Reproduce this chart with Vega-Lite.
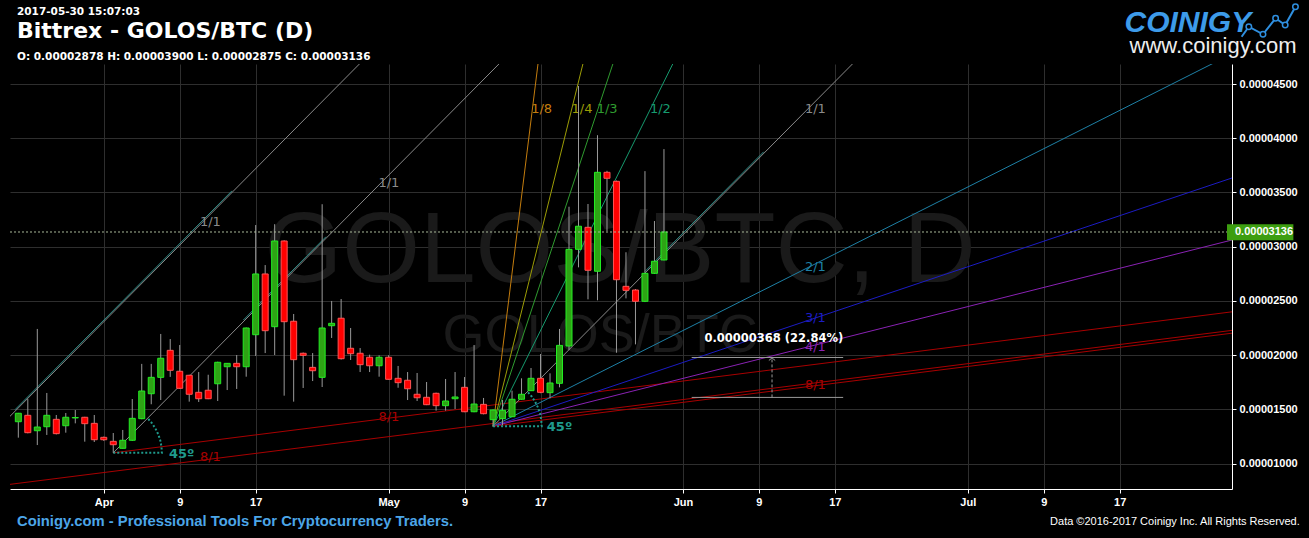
{
  "$schema": "https://vega.github.io/schema/vega-lite/v6.json",
  "width": 1222,
  "height": 425,
  "autosize": {"type": "none"},
  "padding": {"left": 10, "top": 64, "right": 77, "bottom": 49},
  "background": "#000000",
  "config": {"view": {"stroke": null}, "font": "Liberation Sans"},
  "datasets": {
    "candles": [
      {"d": "2017-03-23", "o": 0.00001387, "h": 0.00001468, "l": 0.00001240, "c": 0.00001465},
      {"d": "2017-03-24", "o": 0.00001446, "h": 0.00001596, "l": 0.00001280, "c": 0.00001286},
      {"d": "2017-03-25", "o": 0.00001304, "h": 0.00002242, "l": 0.00001172, "c": 0.00001338},
      {"d": "2017-03-26", "o": 0.00001341, "h": 0.00001652, "l": 0.00001265, "c": 0.00001446},
      {"d": "2017-03-27", "o": 0.00001409, "h": 0.00001449, "l": 0.00001270, "c": 0.00001277},
      {"d": "2017-03-28", "o": 0.00001350, "h": 0.00001467, "l": 0.00001286, "c": 0.00001428},
      {"d": "2017-03-29", "o": 0.00001422, "h": 0.00001495, "l": 0.00001372, "c": 0.00001426},
      {"d": "2017-03-30", "o": 0.00001428, "h": 0.00001432, "l": 0.00001203, "c": 0.00001369},
      {"d": "2017-03-31", "o": 0.00001372, "h": 0.00001449, "l": 0.00001200, "c": 0.00001221},
      {"d": "2017-04-01", "o": 0.00001243, "h": 0.00001250, "l": 0.00001210, "c": 0.00001221},
      {"d": "2017-04-02", "o": 0.00001206, "h": 0.00001283, "l": 0.00001100, "c": 0.00001175},
      {"d": "2017-04-03", "o": 0.00001142, "h": 0.00001311, "l": 0.00001140, "c": 0.00001216},
      {"d": "2017-04-04", "o": 0.00001216, "h": 0.00001596, "l": 0.00001210, "c": 0.00001418},
      {"d": "2017-04-05", "o": 0.00001415, "h": 0.00001920, "l": 0.00001410, "c": 0.00001670},
      {"d": "2017-04-06", "o": 0.00001645, "h": 0.00001920, "l": 0.00001548, "c": 0.00001796},
      {"d": "2017-04-07", "o": 0.00001796, "h": 0.00002196, "l": 0.00001587, "c": 0.00001972},
      {"d": "2017-04-08", "o": 0.00002045, "h": 0.00002149, "l": 0.00001800, "c": 0.00001861},
      {"d": "2017-04-09", "o": 0.00001852, "h": 0.00002094, "l": 0.00001690, "c": 0.00001695},
      {"d": "2017-04-10", "o": 0.00001815, "h": 0.00001820, "l": 0.00001572, "c": 0.00001640},
      {"d": "2017-04-11", "o": 0.00001658, "h": 0.00001845, "l": 0.00001569, "c": 0.00001599},
      {"d": "2017-04-12", "o": 0.00001677, "h": 0.00001820, "l": 0.00001595, "c": 0.00001599},
      {"d": "2017-04-13", "o": 0.00001737, "h": 0.00001940, "l": 0.00001578, "c": 0.00001935},
      {"d": "2017-04-14", "o": 0.00001894, "h": 0.00001928, "l": 0.00001679, "c": 0.00001925},
      {"d": "2017-04-15", "o": 0.00001925, "h": 0.00002002, "l": 0.00001689, "c": 0.00001894},
      {"d": "2017-04-16", "o": 0.00001894, "h": 0.00002255, "l": 0.00001802, "c": 0.00002251},
      {"d": "2017-04-17", "o": 0.00002189, "h": 0.00003200, "l": 0.00001993, "c": 0.00002749},
      {"d": "2017-04-18", "o": 0.00002749, "h": 0.00002831, "l": 0.00002020, "c": 0.00002226},
      {"d": "2017-04-19", "o": 0.00002263, "h": 0.00003208, "l": 0.00002002, "c": 0.00003053},
      {"d": "2017-04-20", "o": 0.00003053, "h": 0.00003060, "l": 0.00001627, "c": 0.00002309},
      {"d": "2017-04-21", "o": 0.00002313, "h": 0.00002380, "l": 0.00001572, "c": 0.00001959},
      {"d": "2017-04-22", "o": 0.00002018, "h": 0.00002025, "l": 0.00001698, "c": 0.00001999},
      {"d": "2017-04-23", "o": 0.00001888, "h": 0.00002020, "l": 0.00001762, "c": 0.00001857},
      {"d": "2017-04-24", "o": 0.00001796, "h": 0.00003392, "l": 0.00001707, "c": 0.00002251},
      {"d": "2017-04-25", "o": 0.00002272, "h": 0.00002500, "l": 0.00002159, "c": 0.00002294},
      {"d": "2017-04-26", "o": 0.00002341, "h": 0.00002518, "l": 0.00001960, "c": 0.00001968},
      {"d": "2017-04-27", "o": 0.00002064, "h": 0.00002251, "l": 0.00001956, "c": 0.00002014},
      {"d": "2017-04-28", "o": 0.00002018, "h": 0.00002066, "l": 0.00001845, "c": 0.00001913},
      {"d": "2017-04-29", "o": 0.00001981, "h": 0.00002005, "l": 0.00001845, "c": 0.00001903},
      {"d": "2017-04-30", "o": 0.00001903, "h": 0.00001999, "l": 0.00001802, "c": 0.00001981},
      {"d": "2017-05-01", "o": 0.00001981, "h": 0.00002000, "l": 0.00001775, "c": 0.00001778},
      {"d": "2017-05-02", "o": 0.00001787, "h": 0.00001901, "l": 0.00001700, "c": 0.00001747},
      {"d": "2017-05-03", "o": 0.00001769, "h": 0.00001845, "l": 0.00001587, "c": 0.00001691},
      {"d": "2017-05-04", "o": 0.00001640, "h": 0.00001836, "l": 0.00001578, "c": 0.00001608},
      {"d": "2017-05-05", "o": 0.00001612, "h": 0.00001753, "l": 0.00001540, "c": 0.00001544},
      {"d": "2017-05-06", "o": 0.00001649, "h": 0.00001655, "l": 0.00001489, "c": 0.00001535},
      {"d": "2017-05-07", "o": 0.00001535, "h": 0.00001781, "l": 0.00001489, "c": 0.00001578},
      {"d": "2017-05-08", "o": 0.00001599, "h": 0.00001845, "l": 0.00001504, "c": 0.00001615},
      {"d": "2017-05-09", "o": 0.00001704, "h": 0.00001799, "l": 0.00001475, "c": 0.00001479},
      {"d": "2017-05-10", "o": 0.00001479, "h": 0.00002094, "l": 0.00001475, "c": 0.00001550},
      {"d": "2017-05-11", "o": 0.00001547, "h": 0.00001606, "l": 0.00001455, "c": 0.00001461},
      {"d": "2017-05-12", "o": 0.00001406, "h": 0.00001500, "l": 0.00001345, "c": 0.00001495},
      {"d": "2017-05-13", "o": 0.00001415, "h": 0.00001587, "l": 0.00001357, "c": 0.00001492},
      {"d": "2017-05-14", "o": 0.00001433, "h": 0.00001673, "l": 0.00001430, "c": 0.00001594},
      {"d": "2017-05-15", "o": 0.00001594, "h": 0.00001787, "l": 0.00001590, "c": 0.00001640},
      {"d": "2017-05-16", "o": 0.00001673, "h": 0.00001882, "l": 0.00001670, "c": 0.00001787},
      {"d": "2017-05-17", "o": 0.00001787, "h": 0.00002011, "l": 0.00001650, "c": 0.00001658},
      {"d": "2017-05-18", "o": 0.00001655, "h": 0.00001833, "l": 0.00001603, "c": 0.00001744},
      {"d": "2017-05-19", "o": 0.00001741, "h": 0.00002242, "l": 0.00001704, "c": 0.00002091},
      {"d": "2017-05-20", "o": 0.00002085, "h": 0.00003369, "l": 0.00002050, "c": 0.00002976},
      {"d": "2017-05-21", "o": 0.00002976, "h": 0.00004482, "l": 0.00002810, "c": 0.00003189},
      {"d": "2017-05-22", "o": 0.00003179, "h": 0.00003394, "l": 0.00002515, "c": 0.00002783},
      {"d": "2017-05-23", "o": 0.00002774, "h": 0.00004028, "l": 0.00002506, "c": 0.00003686},
      {"d": "2017-05-24", "o": 0.00003686, "h": 0.00003700, "l": 0.00003145, "c": 0.00003631},
      {"d": "2017-05-25", "o": 0.00003603, "h": 0.00003610, "l": 0.00002023, "c": 0.00002696},
      {"d": "2017-05-26", "o": 0.00002635, "h": 0.00002949, "l": 0.00002524, "c": 0.00002598},
      {"d": "2017-05-27", "o": 0.00002601, "h": 0.00002610, "l": 0.00002100, "c": 0.00002497},
      {"d": "2017-05-28", "o": 0.00002497, "h": 0.00003697, "l": 0.00002490, "c": 0.00002755},
      {"d": "2017-05-29", "o": 0.00002755, "h": 0.00003237, "l": 0.00002750, "c": 0.00002866},
      {"d": "2017-05-30", "o": 0.00002878, "h": 0.00003900, "l": 0.00002875, "c": 0.00003136}
    ],
    "gann": [
      {"fan": 0, "r": "1/1", "d": "2017-03-14", "p": 0.0000072, "d2": "2017-05-01", "p2": 0.00004956},
      {"fan": 0, "r": "8/1", "d": "2017-03-14", "p": 0.0000072, "d2": "2017-07-29", "p2": 0.00002231},
      {"fan": 1, "r": "1/1", "d": "2017-04-02", "p": 0.000011, "d2": "2017-05-20", "p2": 0.00005336},
      {"fan": 1, "r": "8/1", "d": "2017-04-02", "p": 0.000011, "d2": "2017-07-29", "p2": 0.00002402},
      {"fan": 2, "r": "1/8", "d": "2017-05-12", "p": 0.00001345, "d2": "2017-05-18", "p2": 0.0000558},
      {"fan": 2, "r": "1/4", "d": "2017-05-12", "p": 0.00001345, "d2": "2017-05-24", "p2": 0.0000558},
      {"fan": 2, "r": "1/3", "d": "2017-05-12", "p": 0.00001345, "d2": "2017-05-28", "p2": 0.0000558},
      {"fan": 2, "r": "1/2", "d": "2017-05-12", "p": 0.00001345, "d2": "2017-06-05", "p2": 0.0000558},
      {"fan": 2, "r": "1/1", "d": "2017-05-12", "p": 0.00001345, "d2": "2017-06-29", "p2": 0.0000558},
      {"fan": 2, "r": "2/1", "d": "2017-05-12", "p": 0.00001345, "d2": "2017-07-29", "p2": 0.00004786},
      {"fan": 2, "r": "3/1", "d": "2017-05-12", "p": 0.00001345, "d2": "2017-07-29", "p2": 0.00003639},
      {"fan": 2, "r": "4/1", "d": "2017-05-12", "p": 0.00001345, "d2": "2017-07-29", "p2": 0.00003066},
      {"fan": 2, "r": "8/1", "d": "2017-05-12", "p": 0.00001345, "d2": "2017-07-29", "p2": 0.00002205}
    ],
    "trend": [
      {"d": "2017-03-22T15:37:00Z", "p": 0.00001498, "d2": "2017-04-14T12:00:00Z", "p2": 0.00003515},
      {"d": "2017-04-15T16:48:00Z", "p": 0.00002324, "d2": "2017-04-24T09:36:00Z", "p2": 0.00003092},
      {"d": "2017-05-28T00:00:00Z", "p": 0.00002772, "d2": "2017-06-09T12:00:00Z", "p2": 0.00003875}
    ],
    "gannLabels": [
      {"r": "1/1", "d": "2017-04-12T05:31:00Z", "p": 0.00003228},
      {"r": "8/1", "d": "2017-04-12T05:31:00Z", "p": 0.00001062},
      {"r": "1/1", "d": "2017-05-01T00:43:00Z", "p": 0.00003588},
      {"r": "8/1", "d": "2017-05-01T00:43:00Z", "p": 0.0000143},
      {"r": "1/8", "d": "2017-05-17T02:53:00Z", "p": 0.0000427},
      {"r": "1/4", "d": "2017-05-21T08:53:00Z", "p": 0.0000427},
      {"r": "1/3", "d": "2017-05-24T00:14:00Z", "p": 0.0000427},
      {"r": "1/2", "d": "2017-05-29T14:53:00Z", "p": 0.0000427},
      {"r": "1/1", "d": "2017-06-14T22:48:00Z", "p": 0.0000427},
      {"r": "2/1", "d": "2017-06-14T22:48:00Z", "p": 0.00002813},
      {"r": "3/1", "d": "2017-06-14T22:48:00Z", "p": 0.00002343},
      {"r": "4/1", "d": "2017-06-14T22:48:00Z", "p": 0.0000208},
      {"r": "8/1", "d": "2017-06-14T22:48:00Z", "p": 0.00001725}
    ],
    "arcs": [
      {"fan": 1, "i": 0, "d": "2017-04-02T00:00:00Z", "p": 0.000011},
      {"fan": 1, "i": 1, "d": "2017-04-07T02:54:00Z", "p": 0.000011},
      {"fan": 1, "i": 2, "d": "2017-04-07T01:48:00Z", "p": 0.00001159},
      {"fan": 1, "i": 3, "d": "2017-04-06T22:40:00Z", "p": 0.00001217},
      {"fan": 1, "i": 4, "d": "2017-04-06T17:30:00Z", "p": 0.00001273},
      {"fan": 1, "i": 5, "d": "2017-04-06T10:24:00Z", "p": 0.00001326},
      {"fan": 1, "i": 6, "d": "2017-04-06T01:28:00Z", "p": 0.00001375},
      {"fan": 1, "i": 7, "d": "2017-04-05T14:53:00Z", "p": 0.00001419},
      {"fan": 2, "i": 0, "d": "2017-05-12T00:00:00Z", "p": 0.00001345},
      {"fan": 2, "i": 1, "d": "2017-05-17T02:54:00Z", "p": 0.00001345},
      {"fan": 2, "i": 2, "d": "2017-05-17T01:48:00Z", "p": 0.00001404},
      {"fan": 2, "i": 3, "d": "2017-05-16T22:40:00Z", "p": 0.00001462},
      {"fan": 2, "i": 4, "d": "2017-05-16T17:30:00Z", "p": 0.00001518},
      {"fan": 2, "i": 5, "d": "2017-05-16T10:24:00Z", "p": 0.00001571},
      {"fan": 2, "i": 6, "d": "2017-05-16T01:28:00Z", "p": 0.0000162},
      {"fan": 2, "i": 7, "d": "2017-05-15T14:53:00Z", "p": 0.00001664}
    ],
    "deg": [
      {"t": "45º", "d": "2017-04-09T04:48:00Z", "p": 0.00001089},
      {"t": "45º", "d": "2017-05-19T00:00:00Z", "p": 0.00001338}
    ],
    "last": [{"p": 0.00003136}],
    "priceBox": [{"d": "2017-07-28T07:13:00Z", "d2": "2017-08-04T07:00:00Z", "p": 0.0000306, "p2": 0.00003207, "t": "0.00003136", "dt": "2017-07-29T03:22:00Z", "pt": 0.00003136}],
    "measureH": [
      {"d": "2017-06-01T22:05:00Z", "d2": "2017-06-17T21:00:00Z", "p": 0.00001611},
      {"d": "2017-06-01T22:05:00Z", "d2": "2017-06-17T21:00:00Z", "p": 0.00001979}
    ],
    "measureV": [{"d": "2017-06-10T09:10:00Z", "p": 0.00001611, "p2": 0.00001975}],
    "measureTip": [{"d": "2017-06-10T09:10:00Z", "p": 0.00001975}],
    "measureText": [{"t": "0.00000368 (22.84%)", "d": "2017-06-10T13:40:00Z", "p": 0.0000215}],
    "wmBig": [{"t": "GOLOS/BTC, D", "d": "2017-05-25T08:53:00Z", "p": 0.00002675}],
    "wmSmall": [{"t": "GOLOS/BTC", "d": "2017-05-23T06:43:00Z", "p": 0.0000203}],
    "hDate": [{"t": "2017-05-30 15:07:03", "d": "2017-03-22T20:40:00Z", "p": 0.00005168}],
    "hTitle": [{"t": "Bittrex - GOLOS/BTC (D)", "d": "2017-03-22T20:40:00Z", "p": 0.00004989}],
    "hOhlc": [{"t": "O: 0.00002878 H: 0.00003900 L: 0.00002875 C: 0.00003136", "d": "2017-03-22T20:40:00Z", "p": 0.00004749}],
    "footL": [{"t": "Coinigy.com - Professional Tools For Cryptocurrency Traders.", "d": "2017-03-22T20:40:00Z", "p": 0.000004626}],
    "footR": [{"t": "Data ©2016-2017 Coinigy Inc. All Rights Reserved.", "d": "2017-08-04T23:00:00Z", "p": 0.000004626}],
    "logo": [{"t": "COINIGY", "d": "2017-07-24T04:19:00Z", "p": 0.00004982}],
    "logoUrl": [{"t": "www.coinigy.com", "d": "2017-07-26T20:10:00Z", "p": 0.00004786}],
    "logoIcon": [
      {"i": 0, "d": "2017-07-29T20:10:00Z", "p": 0.00004936, "dot": false},
      {"i": 1, "d": "2017-07-30T14:24:00Z", "p": 0.00005028, "dot": true},
      {"i": 2, "d": "2017-08-01T02:10:00Z", "p": 0.00004958, "dot": true},
      {"i": 3, "d": "2017-08-02T10:05:00Z", "p": 0.00005106, "dot": true},
      {"i": 4, "d": "2017-08-03T10:19:00Z", "p": 0.00005044, "dot": true},
      {"i": 5, "d": "2017-08-04T12:14:00Z", "p": 0.00005213, "dot": true}
    ]
  },
  "layer": [
    {
      "data": {"name": "wmBig"},
      "mark": {"type": "text", "align": "center", "baseline": "alphabetic", "fontSize": 100, "font": "Liberation Sans", "color": "#1a1a1a"},
      "encoding": {
        "x": {"field": "d", "type": "temporal", "title": null,
          "scale": {"type": "utc", "nice": false, "domain": [{"year": 2017, "month": 3, "date": 22, "hours": 15, "minutes": 37, "utc": true}, {"year": 2017, "month": 7, "date": 28, "hours": 7, "minutes": 13, "utc": true}]},
          "axis": {
            "values": [
              {"year": 2017, "month": 4, "date": 1, "utc": true}, {"year": 2017, "month": 4, "date": 9, "utc": true}, {"year": 2017, "month": 4, "date": 17, "utc": true},
              {"year": 2017, "month": 5, "date": 1, "utc": true}, {"year": 2017, "month": 5, "date": 9, "utc": true}, {"year": 2017, "month": 5, "date": 17, "utc": true},
              {"year": 2017, "month": 6, "date": 1, "utc": true}, {"year": 2017, "month": 6, "date": 9, "utc": true}, {"year": 2017, "month": 6, "date": 17, "utc": true},
              {"year": 2017, "month": 7, "date": 1, "utc": true}, {"year": 2017, "month": 7, "date": 9, "utc": true}, {"year": 2017, "month": 7, "date": 17, "utc": true}
            ],
            "labelExpr": "utcdate(datum.value) == 1 ? utcFormat(datum.value, '%b') : utcFormat(datum.value, '%-d')",
            "grid": true, "gridColor": "#2e2e2e", "gridWidth": 1,
            "domainColor": "#ffffff", "domainWidth": 1, "tickColor": "#ffffff", "tickSize": 4,
            "labelColor": "#ffffff", "labelFont": "Liberation Sans", "labelFontWeight": "bold", "labelFontSize": 11,
            "labelPadding": 3, "labelOverlap": false, "labelFlush": false
          }
        },
        "y": {"field": "p", "type": "quantitative", "title": null,
          "scale": {"domain": [0.000007668, 0.000046845], "nice": false, "zero": false},
          "axis": {
            "orient": "right",
            "values": [0.00001, 0.000015, 0.00002, 0.000025, 0.00003, 0.000035, 0.00004, 0.000045],
            "format": ".8f",
            "grid": true, "gridColor": "#2e2e2e", "gridWidth": 1,
            "domainColor": "#ffffff", "domainWidth": 1, "tickColor": "#ffffff", "tickSize": 4,
            "labelColor": "#ffffff", "labelFont": "Liberation Sans", "labelFontWeight": "bold", "labelFontSize": 11,
            "labelPadding": 3, "labelOverlap": false, "labelFlush": false
          }
        },
        "text": {"field": "t"}
      }
    },
    {
      "data": {"name": "wmSmall"},
      "mark": {"type": "text", "align": "center", "baseline": "alphabetic", "fontSize": 54, "font": "Liberation Sans", "color": "#1a1a1a"},
      "encoding": {
        "x": {"field": "d", "type": "temporal", "title": null},
        "y": {"field": "p", "type": "quantitative", "title": null},
        "text": {"field": "t"}
      }
    },
    {
      "data": {"name": "gann"},
      "mark": {"type": "rule", "clip": true, "strokeWidth": 1},
      "encoding": {
        "x": {"field": "d", "type": "temporal", "title": null},
        "x2": {"field": "d2"},
        "y": {"field": "p", "type": "quantitative", "title": null},
        "y2": {"field": "p2"},
        "color": {"field": "r", "type": "nominal", "legend": null,
          "scale": {"domain": ["1/8", "1/4", "1/3", "1/2", "1/1", "2/1", "3/1", "4/1", "8/1"],
                    "range": ["#c47d0e", "#9d9d06", "#2f9b2f", "#169a6e", "#8a8a8a", "#1e80a6", "#1c1cc4", "#8a22b4", "#a80000"]}}
      }
    },
    {
      "data": {"name": "trend"},
      "mark": {"type": "rule", "clip": true, "strokeWidth": 1, "color": "#2f8f8a"},
      "encoding": {
        "x": {"field": "d", "type": "temporal", "title": null},
        "x2": {"field": "d2"},
        "y": {"field": "p", "type": "quantitative", "title": null},
        "y2": {"field": "p2"}
      }
    },
    {
      "data": {"name": "gannLabels"},
      "mark": {"type": "text", "align": "center", "baseline": "middle", "fontSize": 13, "font": "DejaVu Sans"},
      "encoding": {
        "x": {"field": "d", "type": "temporal", "title": null},
        "y": {"field": "p", "type": "quantitative", "title": null},
        "text": {"field": "r"},
        "color": {"field": "r", "type": "nominal", "legend": null}
      }
    },
    {
      "data": {"name": "arcs"},
      "mark": {"type": "line", "strokeDash": [2, 2], "strokeWidth": 2, "color": "#1f9a8c"},
      "encoding": {
        "x": {"field": "d", "type": "temporal", "title": null},
        "y": {"field": "p", "type": "quantitative", "title": null},
        "detail": {"field": "fan"},
        "order": {"field": "i"}
      }
    },
    {
      "data": {"name": "deg"},
      "mark": {"type": "text", "align": "center", "baseline": "middle", "fontSize": 13, "font": "DejaVu Sans", "fontWeight": "bold", "color": "#1f9a8c"},
      "encoding": {
        "x": {"field": "d", "type": "temporal", "title": null},
        "y": {"field": "p", "type": "quantitative", "title": null},
        "text": {"field": "t"}
      }
    },
    {
      "data": {"name": "candles"},
      "mark": {"type": "rule", "color": "#9a9a9a", "strokeWidth": 1},
      "encoding": {
        "x": {"field": "d", "type": "temporal", "title": null},
        "y": {"field": "l", "type": "quantitative", "title": null},
        "y2": {"field": "h"}
      }
    },
    {
      "data": {"name": "candles"},
      "mark": {"type": "bar", "width": 6, "strokeWidth": 1},
      "encoding": {
        "x": {"field": "d", "type": "temporal", "title": null},
        "y": {"field": "o", "type": "quantitative", "title": null},
        "y2": {"field": "c"},
        "fill": {"condition": {"test": "datum.c >= datum.o", "value": "#2ea315"}, "value": "#ff0000"},
        "stroke": {"condition": {"test": "datum.c >= datum.o", "value": "#22ee22"}, "value": "#ff5555"}
      }
    },
    {
      "data": {"name": "last"},
      "mark": {"type": "rule", "color": "#a8b898", "strokeDash": [2, 2], "strokeWidth": 1},
      "encoding": {
        "y": {"field": "p", "type": "quantitative", "title": null}
      }
    },
    {
      "data": {"name": "measureH"},
      "mark": {"type": "rule", "color": "#9a9a9a", "strokeWidth": 1},
      "encoding": {
        "x": {"field": "d", "type": "temporal", "title": null},
        "x2": {"field": "d2"},
        "y": {"field": "p", "type": "quantitative", "title": null}
      }
    },
    {
      "data": {"name": "measureV"},
      "mark": {"type": "rule", "color": "#9a9a9a", "strokeWidth": 1, "strokeDash": [3, 2]},
      "encoding": {
        "x": {"field": "d", "type": "temporal", "title": null},
        "y": {"field": "p", "type": "quantitative", "title": null},
        "y2": {"field": "p2"}
      }
    },
    {
      "data": {"name": "measureTip"},
      "mark": {"type": "point", "shape": "M-1,0.8L0,0L1,0.8", "size": 40, "filled": false, "color": "#9a9a9a", "strokeWidth": 1, "opacity": 1},
      "encoding": {
        "x": {"field": "d", "type": "temporal", "title": null},
        "y": {"field": "p", "type": "quantitative", "title": null}
      }
    },
    {
      "data": {"name": "measureText"},
      "mark": {"type": "text", "align": "center", "baseline": "middle", "fontSize": 11.5, "font": "DejaVu Sans", "fontWeight": "bold", "color": "#ffffff"},
      "encoding": {
        "x": {"field": "d", "type": "temporal", "title": null},
        "y": {"field": "p", "type": "quantitative", "title": null},
        "text": {"field": "t"}
      }
    },
    {
      "data": {"name": "priceBox"},
      "mark": {"type": "rect", "color": "#3d9e10"},
      "encoding": {
        "x": {"field": "d", "type": "temporal", "title": null},
        "x2": {"field": "d2"},
        "y": {"field": "p", "type": "quantitative", "title": null},
        "y2": {"field": "p2"}
      }
    },
    {
      "data": {"name": "priceBox"},
      "mark": {"type": "text", "align": "left", "baseline": "middle", "fontSize": 11, "font": "Liberation Sans", "fontWeight": "bold", "color": "#ffffff"},
      "encoding": {
        "x": {"field": "dt", "type": "temporal", "title": null},
        "y": {"field": "pt", "type": "quantitative", "title": null},
        "text": {"field": "t"}
      }
    },
    {
      "data": {"name": "hDate"},
      "mark": {"type": "text", "align": "left", "baseline": "middle", "fontSize": 10.5, "font": "DejaVu Sans", "fontWeight": "bold", "color": "#ffffff"},
      "encoding": {
        "x": {"field": "d", "type": "temporal", "title": null},
        "y": {"field": "p", "type": "quantitative", "title": null},
        "text": {"field": "t"}
      }
    },
    {
      "data": {"name": "hTitle"},
      "mark": {"type": "text", "align": "left", "baseline": "middle", "fontSize": 22, "font": "DejaVu Sans", "fontWeight": "bold", "color": "#ffffff"},
      "encoding": {
        "x": {"field": "d", "type": "temporal", "title": null},
        "y": {"field": "p", "type": "quantitative", "title": null},
        "text": {"field": "t"}
      }
    },
    {
      "data": {"name": "hOhlc"},
      "mark": {"type": "text", "align": "left", "baseline": "middle", "fontSize": 10.5, "font": "DejaVu Sans", "fontWeight": "bold", "color": "#ffffff"},
      "encoding": {
        "x": {"field": "d", "type": "temporal", "title": null},
        "y": {"field": "p", "type": "quantitative", "title": null},
        "text": {"field": "t"}
      }
    },
    {
      "data": {"name": "footL"},
      "mark": {"type": "text", "align": "left", "baseline": "middle", "fontSize": 14.8, "font": "Liberation Sans", "fontWeight": "bold", "color": "#4ca6e8"},
      "encoding": {
        "x": {"field": "d", "type": "temporal", "title": null},
        "y": {"field": "p", "type": "quantitative", "title": null},
        "text": {"field": "t"}
      }
    },
    {
      "data": {"name": "footR"},
      "mark": {"type": "text", "align": "right", "baseline": "middle", "fontSize": 11, "font": "Liberation Sans", "color": "#ffffff"},
      "encoding": {
        "x": {"field": "d", "type": "temporal", "title": null},
        "y": {"field": "p", "type": "quantitative", "title": null},
        "text": {"field": "t"}
      }
    },
    {
      "data": {"name": "logo"},
      "mark": {"type": "text", "align": "center", "baseline": "alphabetic", "fontSize": 30, "font": "Liberation Sans Narrow, Liberation Sans", "fontWeight": "bold", "fontStyle": "italic", "color": "#3d9be9"},
      "encoding": {
        "x": {"field": "d", "type": "temporal", "title": null},
        "y": {"field": "p", "type": "quantitative", "title": null},
        "text": {"field": "t"}
      }
    },
    {
      "data": {"name": "logoUrl"},
      "mark": {"type": "text", "align": "center", "baseline": "alphabetic", "fontSize": 22, "font": "Liberation Sans", "color": "#eeeeee"},
      "encoding": {
        "x": {"field": "d", "type": "temporal", "title": null},
        "y": {"field": "p", "type": "quantitative", "title": null},
        "text": {"field": "t"}
      }
    },
    {
      "data": {"name": "logoIcon"},
      "mark": {"type": "line", "color": "#2f8fdf", "strokeWidth": 2},
      "encoding": {
        "x": {"field": "d", "type": "temporal", "title": null},
        "y": {"field": "p", "type": "quantitative", "title": null},
        "order": {"field": "i"}
      }
    },
    {
      "data": {"name": "logoIcon"},
      "transform": [{"filter": "datum.dot"}],
      "mark": {"type": "point", "shape": "circle", "size": 30, "filled": true, "fill": "#000000", "stroke": "#2f8fdf", "strokeWidth": 1.5, "opacity": 1},
      "encoding": {
        "x": {"field": "d", "type": "temporal", "title": null},
        "y": {"field": "p", "type": "quantitative", "title": null}
      }
    }
  ]
}
